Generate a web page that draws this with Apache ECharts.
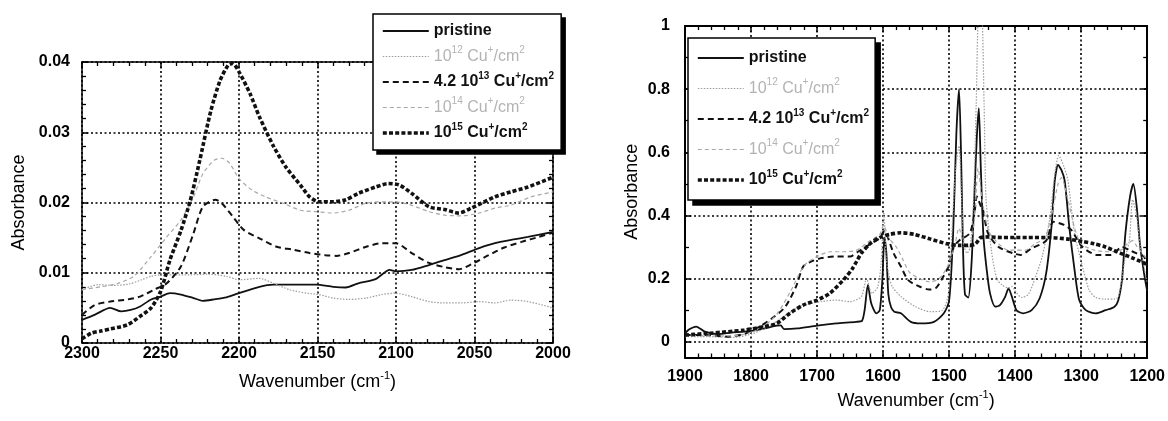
<!DOCTYPE html>
<html>
<head>
<meta charset="utf-8">
<script src="https://cdn.jsdelivr.net/npm/echarts@6/dist/echarts.min.js"></script>
<style>
html,body{margin:0;padding:0;background:#fff;}
#chart{width:1168px;height:421px;}
</style>
</head>
<body>
<div id="chart"></div>
<script>
// ---------- DATA (wavenumber cm-1, absorbance) ----------
const seriesKeys = ['pristine', 'e12', 'e13', 'e14', 'e15'];
const legendLabels = {
  pristine: '{b|pristine}',
  e12: '{g|10}{gs|12}{g| Cu}{gs|+}{g|/cm}{gs|2}',
  e13: '{b|4.2 10}{bs|13}{b| Cu}{bs|+}{b|/cm}{bs|2}',
  e14: '{g|10}{gs|14}{g| Cu}{gs|+}{g|/cm}{gs|2}',
  e15: '{b|10}{bs|15}{b| Cu}{bs|+}{b|/cm}{bs|2}'
};

// Left panel (2300-2000 cm-1)
const leftPristine = [[2300,.0033],[2292,.004],[2282,.005],[2275,.0045],[2269,.0047],[2263,.0052],[2256,.0062],[2250,.0066],[2244,.0071],[2237,.0069],[2229,.0064],[2223,.006],[2216,.0062],[2208,.0065],[2200,.0071],[2187,.008],[2178,.0083],[2170,.0083],[2161,.0083],[2151,.0083],[2140,.008],[2132,.0079],[2124,.0085],[2113,.0091],[2104,.0104],[2100,.0102],[2090,.0104],[2079,.0111],[2069,.0118],[2060,.0124],[2047,.0135],[2037,.0142],[2026,.0147],[2016,.0151],[2000,.0158]];
const leftE12 = [[2300,.0076],[2290,.0083],[2280,.0082],[2270,.0084],[2262,.009],[2256,.0095],[2250,.0097],[2242,.0097],[2231,.0097],[2220,.0098],[2208,.0095],[2200,.009],[2187,.0092],[2178,.0085],[2168,.0076],[2157,.0071],[2149,.0069],[2140,.0064],[2130,.0062],[2119,.0064],[2109,.0069],[2100,.0071],[2090,.0066],[2079,.0059],[2069,.0057],[2058,.0057],[2047,.0059],[2037,.0057],[2027,.0061],[2016,.0059],[2000,.005]];
const leftE13 = [[2300,.004],[2292,.0054],[2282,.0059],[2271,.0062],[2263,.0066],[2254,.0076],[2246,.0085],[2237,.0109],[2229,.0156],[2223,.0194],[2215,.0204],[2211,.0199],[2204,.018],[2197,.0161],[2187,.0149],[2176,.0137],[2166,.0133],[2155,.0128],[2145,.0125],[2138,.0124],[2130,.0128],[2119,.0137],[2109,.0142],[2100,.0142],[2090,.0128],[2079,.0114],[2069,.0108],[2060,.0105],[2052,.0112],[2041,.0125],[2031,.0136],[2020,.0144],[2009,.0151],[2000,.0157]];
const leftE14 = [[2300,.0076],[2288,.008],[2277,.0085],[2267,.0095],[2256,.0123],[2246,.0151],[2237,.0175],[2229,.0208],[2223,.0241],[2216,.026],[2211,.0263],[2206,.0256],[2200,.0234],[2192,.0218],[2183,.0208],[2172,.0199],[2161,.0189],[2151,.0187],[2140,.0185],[2130,.0189],[2119,.0199],[2109,.0201],[2100,.0201],[2090,.0196],[2079,.0187],[2069,.0182],[2058,.0181],[2047,.0185],[2037,.0192],[2027,.0196],[2014,.0208],[2000,.0215]];
const leftE15 = [[2300,.0006],[2294,.0014],[2288,.0017],[2282,.002],[2271,.0026],[2263,.0038],[2256,.005],[2250,.0073],[2244,.0118],[2237,.016],[2231,.0203],[2225,.026],[2218,.033],[2212,.0374],[2207,.0395],[2204,.0398],[2200,.0386],[2193,.0355],[2187,.0322],[2178,.028],[2170,.025],[2161,.0225],[2155,.0208],[2149,.0201],[2140,.0201],[2132,.0204],[2124,.0213],[2113,.0222],[2105,.0227],[2098,.0225],[2090,.0213],[2079,.0194],[2069,.019],[2060,.0185],[2052,.0192],[2037,.0208],[2027,.0215],[2016,.0222],[2000,.0236]];

// Right panel (1900-1200 cm-1)
const rightPristine = [[1900,.026],[1895,.037],[1888,.045],[1883,.048],[1870,.032],[1850,.024],[1830,.029],[1810,.032],[1786,.039],[1761,.051],[1755,.052],[1750,.04],[1730,.042],[1700,.051],[1671,.058],[1641,.063],[1632,.066],[1628,.10],[1623,.18],[1618,.122],[1610,.09],[1605,.10],[1601,.2],[1598,.33],[1595,.28],[1592,.15],[1588,.11],[1583,.095],[1573,.09],[1558,.063],[1543,.058],[1523,.063],[1508,.09],[1500,.13],[1494,.34],[1489,.66],[1485,.8],[1482,.6],[1479,.3],[1476,.15],[1471,.14],[1466,.25],[1462,.45],[1458,.65],[1455,.74],[1452,.55],[1448,.333],[1443,.227],[1438,.153],[1430,.111],[1423,.116],[1415,.143],[1410,.169],[1405,.143],[1398,.10],[1388,.09],[1375,.10],[1363,.137],[1353,.217],[1345,.364],[1340,.51],[1335,.56],[1330,.544],[1325,.51],[1318,.364],[1310,.227],[1303,.132],[1293,.10],[1278,.09],[1263,.10],[1250,.11],[1244,.13],[1238,.2],[1233,.343],[1226,.46],[1221,.5],[1216,.43],[1211,.31],[1205,.22],[1200,.16]];
const rightE12 = [[1900,.016],[1869,.016],[1825,.014],[1797,.026],[1770,.053],[1743,.09],[1721,.116],[1693,.127],[1671,.132],[1650,.127],[1633,.143],[1625,.2],[1617,.153],[1608,.174],[1603,.25],[1599,.41],[1595,.26],[1590,.2],[1586,.174],[1573,.143],[1551,.111],[1529,.095],[1510,.10],[1501,.153],[1496,.34],[1490,.55],[1485,.62],[1481,.45],[1477,.3],[1473,.28],[1468,.3],[1463,.45],[1459,.75],[1455,1.05],[1451,1.05],[1447,.75],[1444,.45],[1436,.29],[1428,.2],[1420,.18],[1410,.17],[1405,.175],[1398,.155],[1390,.14],[1380,.15],[1370,.2],[1359,.27],[1348,.385],[1340,.53],[1334,.59],[1326,.554],[1320,.51],[1310,.343],[1298,.238],[1288,.164],[1278,.14],[1263,.135],[1250,.135],[1244,.14],[1238,.206],[1233,.27],[1227,.32],[1222,.45],[1216,.40],[1211,.31],[1200,.185]];
const rightE13 = [[1900,.021],[1869,.021],[1836,.016],[1808,.026],[1800,.035],[1787,.048],[1765,.079],[1748,.111],[1732,.174],[1721,.238],[1710,.253],[1693,.265],[1671,.27],[1650,.27],[1638,.285],[1622,.306],[1606,.327],[1598,.35],[1595,.343],[1584,.28],[1573,.238],[1562,.195],[1545,.175],[1530,.165],[1520,.17],[1512,.195],[1501,.238],[1493,.30],[1485,.32],[1469,.343],[1462,.4],[1458,.46],[1452,.43],[1449,.42],[1441,.343],[1425,.30],[1403,.28],[1392,.275],[1375,.296],[1353,.32],[1342,.38],[1326,.37],[1315,.354],[1298,.30],[1276,.275],[1255,.275],[1238,.30],[1227,.29],[1216,.28],[1205,.27],[1200,.24]];
const rightE14 = [[1900,.02],[1860,.018],[1820,.02],[1800,.03],[1780,.05],[1760,.09],[1740,.16],[1720,.24],[1700,.27],[1680,.285],[1660,.285],[1640,.29],[1620,.32],[1605,.34],[1599,.37],[1592,.33],[1580,.30],[1570,.26],[1560,.22],[1545,.2],[1530,.19],[1515,.2],[1502,.24],[1492,.3],[1485,.36],[1478,.31],[1470,.3],[1462,.38],[1456,.55],[1450,.45],[1440,.35],[1425,.31],[1410,.29],[1400,.29],[1385,.29],[1370,.31],[1355,.33],[1345,.4],[1335,.5],[1330,.52],[1320,.45],[1310,.36],[1300,.31],[1280,.29],[1260,.285],[1240,.29],[1230,.31],[1222,.32],[1215,.3],[1200,.26]];
const rightE15 = [[1900,.021],[1861,.027],[1810,.037],[1780,.048],[1761,.058],[1741,.09],[1721,.116],[1700,.132],[1681,.153],[1660,.196],[1646,.233],[1633,.28],[1620,.31],[1605,.33],[1590,.34],[1573,.345],[1553,.34],[1528,.325],[1503,.31],[1485,.305],[1469,.305],[1460,.31],[1452,.33],[1440,.332],[1420,.33],[1400,.33],[1380,.33],[1350,.33],[1320,.325],[1297,.317],[1280,.31],[1263,.30],[1240,.28],[1222,.265],[1200,.245]];

const leftData = {pristine: leftPristine, e12: leftE12, e13: leftE13, e14: leftE14, e15: leftE15};
const rightData = {pristine: rightPristine, e12: rightE12, e13: rightE13, e14: rightE14, e15: rightE15};

// ---------- STYLES ----------
const FONT = 'Liberation Sans, Arial, Helvetica, sans-serif';
const GRAYTXT = '#b3b3b3';
const lineStyles = {
  pristine: {color: '#111', width: 1.8, type: 'solid'},
  e12: {color: '#9c9c9c', width: 1.2, type: [1.5, 1.5]},
  e13: {color: '#111', width: 2, type: [6, 4]},
  e14: {color: '#a8a8a8', width: 1.2, type: [4, 3]},
  e15: {color: '#111', width: 3.6, type: [4, 2.2]}
};

const richLegend = {
  b: {fontFamily: FONT, fontSize: 16, fontWeight: 'bold', color: '#111', lineHeight: 22},
  bs: {fontFamily: FONT, fontSize: 10, fontWeight: 'bold', color: '#111', verticalAlign: 'top', lineHeight: 12},
  g: {fontFamily: FONT, fontSize: 16, fontWeight: 'normal', color: GRAYTXT, lineHeight: 22},
  gs: {fontFamily: FONT, fontSize: 10, fontWeight: 'normal', color: GRAYTXT, verticalAlign: 'top', lineHeight: 12}
};

function makeSeries(dataMap, xi, yi) {
  return seriesKeys.map(k => ({
    name: k,
    type: 'line',
    xAxisIndex: xi,
    yAxisIndex: yi,
    data: dataMap[k],
    symbol: 'none',
    smooth: 0.25,
    clip: true,
    lineStyle: Object.assign({cap: 'butt'}, lineStyles[k]),
    itemStyle: {color: lineStyles[k].color},
    z: 3
  }));
}

const gridLine = {show: true, lineStyle: {color: '#000', width: 1.6, type: [2, 2.5]}};
const frameLine = w => ({show: true, onZero: false, lineStyle: {color: '#000', width: w}});
const tickIn = {show: true, inside: true, length: 6, lineStyle: {color: '#000', width: 1.5}};
const labelStyle = {color: '#000', fontFamily: FONT, fontSize: 16, fontWeight: 'bold'};
const plainNum = v => String(v);
const nameStyle = {
  color: '#000', fontFamily: FONT, fontSize: 18, lineHeight: 24,
  rich: {sup: {fontFamily: FONT, fontSize: 11, color: '#000', verticalAlign: 'top', lineHeight: 10}}
};

function minor(n) {
  return {show: true, splitNumber: n, length: 4, lineStyle: {color: '#000', width: 1.3}};
}

const xAxes = [
  {gridIndex: 0, type: 'value', min: 2000, max: 2300, interval: 50, inverse: true, position: 'bottom',
   axisLine: frameLine(1.5), axisTick: tickIn, minorTick: minor(5), splitLine: gridLine,
   axisLabel: Object.assign({margin: 3, formatter: plainNum}, labelStyle),
   name: 'Wavenumber (cm{sup|-1})', nameLocation: 'middle', nameGap: 27, nameTextStyle: nameStyle},
  {gridIndex: 0, type: 'value', min: 2000, max: 2300, interval: 50, inverse: true, position: 'top',
   axisLine: frameLine(1.5), axisTick: tickIn, minorTick: minor(5), splitLine: {show: false},
   axisLabel: {show: false}},
  {gridIndex: 1, type: 'value', min: 1200, max: 1900, interval: 100, inverse: true, position: 'bottom',
   axisLine: frameLine(2), axisTick: tickIn, minorTick: minor(5), splitLine: gridLine,
   axisLabel: Object.assign({margin: 11, formatter: plainNum}, labelStyle),
   name: 'Wavenumber (cm{sup|-1})', nameLocation: 'middle', nameGap: 32, nameTextStyle: nameStyle},
  {gridIndex: 1, type: 'value', min: 1200, max: 1900, interval: 100, inverse: true, position: 'top',
   axisLine: frameLine(2), axisTick: tickIn, minorTick: minor(5), splitLine: {show: false},
   axisLabel: {show: false}}
];

const yAxes = [
  {gridIndex: 0, type: 'value', min: 0, max: 0.04, interval: 0.01, position: 'left',
   axisLine: frameLine(1.5), axisTick: tickIn, minorTick: minor(5), splitLine: gridLine,
   axisLabel: Object.assign({margin: 12}, labelStyle),
   name: 'Absorbance', nameLocation: 'middle', nameGap: 51, nameRotate: 90, nameTextStyle: nameStyle},
  {gridIndex: 0, type: 'value', min: 0, max: 0.04, interval: 0.01, position: 'right',
   axisLine: frameLine(1.5), axisTick: tickIn, minorTick: minor(5), splitLine: {show: false},
   axisLabel: {show: false}},
  {gridIndex: 1, type: 'value', min: -0.05, max: 1, splitNumber: 5, position: 'left',
   axisLine: frameLine(2), axisTick: tickIn, minorTick: minor(2), splitLine: gridLine,
   axisLabel: Object.assign({margin: 15, showMinLabel: false}, labelStyle),
   name: 'Absorbance', nameLocation: 'middle', nameGap: 40, nameRotate: 90, nameTextStyle: nameStyle},
  {gridIndex: 1, type: 'value', min: -0.05, max: 1, splitNumber: 5, position: 'right',
   axisLine: frameLine(2), axisTick: tickIn, minorTick: minor(2), splitLine: {show: false},
   axisLabel: {show: false, showMinLabel: false}}
];

function legendBox(left, top, gap, pad) {
  return {
    left: left, top: top, orient: 'vertical',
    data: seriesKeys.map(k => ({
      name: k,
      lineStyle: {color: lineStyles[k].color, width: lineStyles[k].width, type: lineStyles[k].type, cap: 'butt'}
    })),
    formatter: n => legendLabels[n],
    selectedMode: false,
    itemWidth: 46, itemHeight: 14, itemGap: gap, itemTextGap: 4,
    itemStyle: {opacity: 0},
    padding: pad,
    backgroundColor: '#fff', borderColor: '#000', borderWidth: 1.5,
    textStyle: {fontFamily: FONT, fontSize: 16, color: '#111', rich: richLegend},
    z: 10
  };
}

const option = {
  animation: false,
  backgroundColor: '#fff',
  grid: [
    {left: 82, top: 62, width: 471, height: 281},
    {left: 685, top: 26, width: 467, height: 331.5}
  ],
  xAxis: xAxes,
  yAxis: yAxes,
  legend: [
    legendBox(373, 14, 6.5, [9, 7, 9, 8]),
    legendBox(688, 38, 11.5, [12, 6, 12, 8])
  ],
  series: makeSeries(leftData, 0, 0).concat(makeSeries(rightData, 2, 2))
};

const chart = echarts.init(document.getElementById('chart'), null, {renderer: 'canvas'});
chart.setOption(option);

// Hard drop-shadow (offset black block) behind each legend box, sized from the rendered legend
const shadowOffset = [4, 5];
const fallbackBoxes = [{x: 373, y: 14, w: 187, h: 136}, {x: 688, y: 38, w: 186, h: 162}];
const shadows = [0, 1].map(i => {
  let box = null;
  try {
    const m = chart.getModel().getComponent('legend', i);
    const v = chart.getViewOfComponentModel(m);
    const br = v.group.getBoundingRect();
    box = {x: br.x + v.group.x, y: br.y + v.group.y, w: br.width, h: br.height};
  } catch (e) { box = null; }
  if (!box || !isFinite(box.w) || box.w <= 0) box = fallbackBoxes[i];
  const o = shadowOffset[i];
  return {type: 'rect', silent: true, z: 9,
          shape: {x: box.x + o, y: box.y + o, width: box.w, height: box.h},
          style: {fill: '#000'}};
});
chart.setOption({graphic: shadows});
</script>
</body>
</html>
